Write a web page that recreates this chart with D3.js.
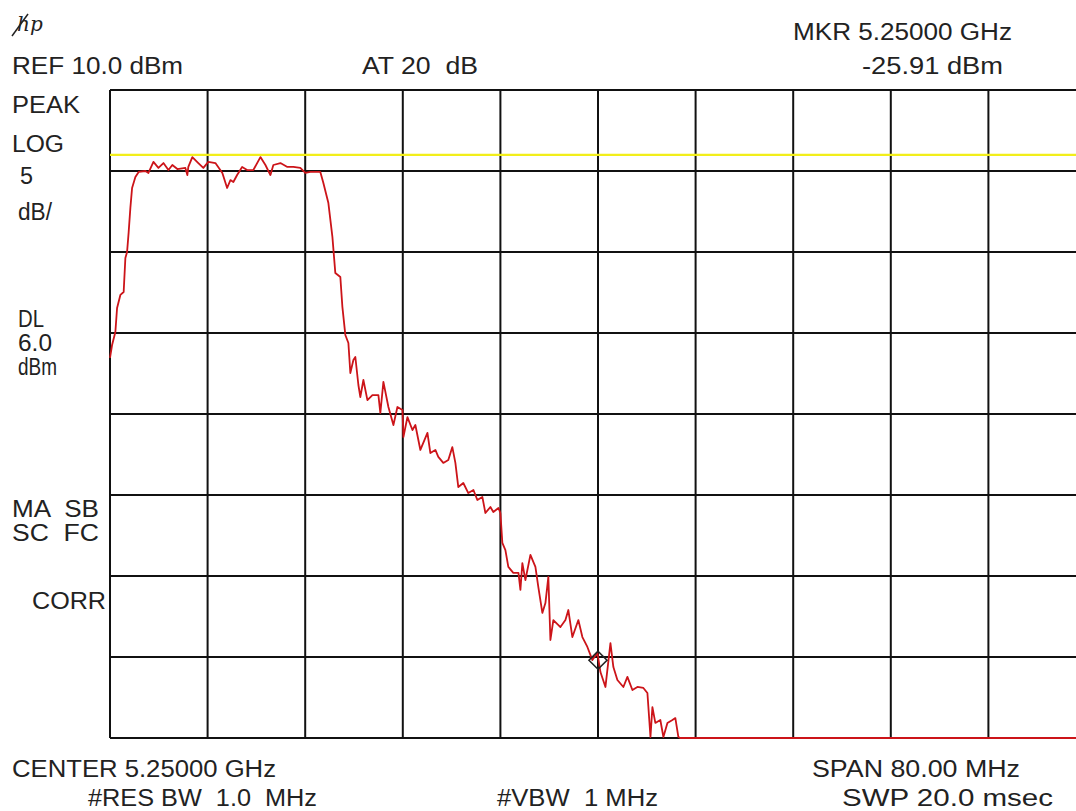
<!DOCTYPE html>
<html>
<head>
<meta charset="utf-8">
<script src="https://cdn.jsdelivr.net/npm/d3@7"></script>
<style>
  body { margin: 0; background: #fff; }
  svg text { font-family: "Liberation Sans", Arial, sans-serif; fill: #222; }
</style>
</head>
<body>
<svg id="sa"></svg>
<script>
// Instrument settings
const centerGHz = 5.25;
const spanMHz = 80;
const refLevel = 10;      // dBm, top of graticule
const dbPerDiv = 5;
const xDivs = 10;
const yDivs = 8;
const displayLine = 6.0;  // dBm
const markerOffset = 0;   // MHz from center
const markerLevel = -25.2;

// Trace: offset from center (MHz) and level (dBm)
const traceFreq = [
  -40.0, -39.83, -39.56, -39.42, -39.15, -38.88, -38.74, -38.6, -38.47, -38.33,
  -38.19, -37.92, -37.65, -37.1, -36.85, -36.44, -36.03, -35.62, -35.21, -34.89,
  -34.48, -33.82, -33.66, -33.58, -33.25, -32.76, -32.35, -31.94, -31.36, -30.79,
  -30.4, -30.13, -29.89, -29.58, -29.17, -28.76, -28.25, -27.67, -27.26, -26.85,
  -26.61, -26.03, -25.46, -24.97, -24.4, -23.99, -23.58, -22.76, -22.51, -22.1,
  -21.77, -21.53, -21.12, -20.95, -20.71, -20.46, -20.3, -20.05, -19.89, -19.64,
  -19.48, -19.23, -18.9, -18.49, -18.0, -17.84, -17.59, -17.18, -16.77, -16.44,
  -16.03, -15.95, -15.62, -15.21, -14.97, -14.56, -13.98, -13.74, -13.33, -13.09,
  -12.68, -12.27, -11.94, -11.69, -11.45, -11.04, -10.63, -10.21, -9.89, -9.48,
  -9.23, -8.82, -8.58, -8.16, -8.0, -7.84, -7.59, -7.35, -6.94, -6.52,
  -6.36, -6.2, -5.95, -5.54, -5.13, -4.89, -4.56, -4.31, -4.07, -3.9,
  -3.66, -3.08, -2.67, -2.43, -2.1, -1.61, -1.28, -0.87, -0.46, -0.05,
  0.2, 0.61, 1.02, 1.26, 1.59, 2.08, 2.41, 2.82, 3.23, 3.72,
  4.05, 4.3, 4.46, 4.7, 5.11, 5.36, 5.69, 6.1, 6.34, 6.59,
  6.75, 40.0
];
const traceLevel = [
  -6.54, -5.74, -4.94, -3.46, -2.65, -2.47, -0.37, 0.0, 1.23, 2.72,
  3.95, 4.63, 4.94, 5.0, 4.88, 5.56, 5.19, 5.49, 5.06, 5.37,
  5.12, 5.19, 4.75, 5.25, 5.86, 5.49, 5.19, 5.56, 5.49, 4.88,
  3.95, 4.44, 4.32, 4.75, 5.25, 5.06, 5.06, 5.86, 5.37, 4.75,
  5.37, 5.49, 5.25, 5.25, 5.19, 4.88, 4.94, 4.94, 4.26, 3.02,
  0.93, -1.3, -1.54, -3.4, -5.12, -5.62, -7.47, -6.67, -6.48, -8.21,
  -8.95, -7.9, -9.14, -8.83, -8.83, -9.94, -8.02, -9.57, -10.68, -9.57,
  -9.75, -11.42, -10.19, -10.99, -10.68, -12.22, -11.17, -12.41, -12.22, -12.65,
  -13.02, -12.84, -12.04, -13.02, -14.51, -14.26, -14.88, -14.69, -15.31, -15.12,
  -16.11, -15.74, -16.05, -15.8, -16.11, -17.96, -18.4, -19.44, -19.81, -19.81,
  -20.86, -19.2, -20.25, -18.7, -19.44, -20.68, -22.28, -21.67, -20.06, -23.95,
  -22.72, -23.15, -22.72, -22.1, -23.77, -22.72, -23.77, -24.38, -25.19, -24.75,
  -25.93, -26.85, -24.14, -25.62, -26.42, -26.85, -26.23, -27.04, -26.85, -26.91,
  -27.22, -29.94, -28.09, -29.07, -28.89, -29.94, -29.07, -28.89, -28.77, -29.94,
  -30.0, -30.0
];

const width = 1076;
const height = 811;
const gLeft = 110, gTop = 90;
const divW = 97.6, divH = 81;
const gRight = gLeft + xDivs * divW;
const gBottom = gTop + yDivs * divH;

const svg = d3.select("#sa")
  .attr("width", width)
  .attr("height", height)
  .attr("viewBox", `0 0 ${width} ${height}`);

const x = d3.scaleLinear()
  .domain([-spanMHz / 2, spanMHz / 2])
  .range([gLeft, gRight]);
const y = d3.scaleLinear()
  .domain([refLevel, refLevel - yDivs * dbPerDiv])
  .range([gTop, gBottom]);

// graticule
const gx = d3.range(0, xDivs + 1).map(i => -spanMHz / 2 + i * spanMHz / xDivs);
const gy = d3.range(0, yDivs + 1).map(i => refLevel - i * dbPerDiv);

svg.append("g")
  .selectAll("line")
  .data(gx)
  .join("line")
  .attr("x1", d => x(d)).attr("x2", d => x(d))
  .attr("y1", gTop).attr("y2", gBottom)
  .attr("stroke", "#111").attr("stroke-width", 2);

svg.append("g")
  .selectAll("line")
  .data(gy)
  .join("line")
  .attr("x1", gLeft).attr("x2", gRight)
  .attr("y1", d => y(d)).attr("y2", d => y(d))
  .attr("stroke", "#111").attr("stroke-width", 2);

// display line
svg.append("line")
  .attr("x1", gLeft).attr("x2", gRight)
  .attr("y1", y(displayLine)).attr("y2", y(displayLine))
  .attr("stroke", "#f2ee1a").attr("stroke-width", 2.2);

// trace
const pts = traceFreq.map((f, i) => [f, traceLevel[i]]);
const line = d3.line()
  .x(d => x(d[0]))
  .y(d => y(d[1]));

svg.append("path")
  .datum(pts)
  .attr("d", line)
  .attr("fill", "none")
  .attr("stroke", "#cc1419")
  .attr("stroke-width", 1.8)
  .attr("stroke-linejoin", "round");

// marker diamond
const mx = x(markerOffset), my = y(markerLevel);
svg.append("path")
  .attr("d", `M${mx},${my - 9}L${mx + 9},${my}L${mx},${my + 9}L${mx - 9},${my}Z`)
  .attr("fill", "none")
  .attr("stroke", "#222")
  .attr("stroke-width", 1.6);

// hp logo
const logo = svg.append("g").attr("transform", "translate(12,12)");
logo.append("text")
  .attr("x", 5).attr("y", 19)
  .style("font-family", "DejaVu Serif, serif")
  .style("font-style", "italic")
  .style("font-size", "20px")
  .text("hp");
logo.append("line")
  .attr("x1", 0).attr("y1", 24).attr("x2", 16).attr("y2", 2)
  .attr("stroke", "#222").attr("stroke-width", 1.5);

// annotations: text, x, baseline, width on screen
const labels = [
  ["REF 10.0 dBm", 12, 74, 171],
  ["AT 20  dB", 362, 74, 116],
  ["MKR 5.25000 GHz", 793, 40, 219],
  ["-25.91 dBm", 862, 74, 141],
  ["PEAK", 12, 113, 68],
  ["LOG", 12, 152, 52],
  ["5", 20, 184, 13],
  ["dB/", 18, 220, 34],
  ["DL", 18, 327, 26],
  ["6.0", 18, 351, 34],
  ["dBm", 18, 375, 39],
  ["MA  SB", 12, 517, 87],
  ["SC  FC", 12, 541, 87],
  ["CORR", 32, 609, 74],
  ["CENTER 5.25000 GHz", 12, 777, 264],
  ["#RES BW  1.0  MHz", 88, 806, 229],
  ["#VBW  1 MHz", 497, 806, 161],
  ["SPAN 80.00 MHz", 812, 777, 208],
  ["SWP 20.0 msec", 842, 806, 211]
];

svg.append("g")
  .selectAll("text")
  .data(labels)
  .join("text")
  .attr("x", d => d[1])
  .attr("y", d => d[2])
  .attr("textLength", d => d[3])
  .attr("lengthAdjust", "spacingAndGlyphs")
  .style("font-size", "23px")
  .style("white-space", "pre")
  .attr("xml:space", "preserve")
  .text(d => d[0]);
</script>
</body>
</html>
